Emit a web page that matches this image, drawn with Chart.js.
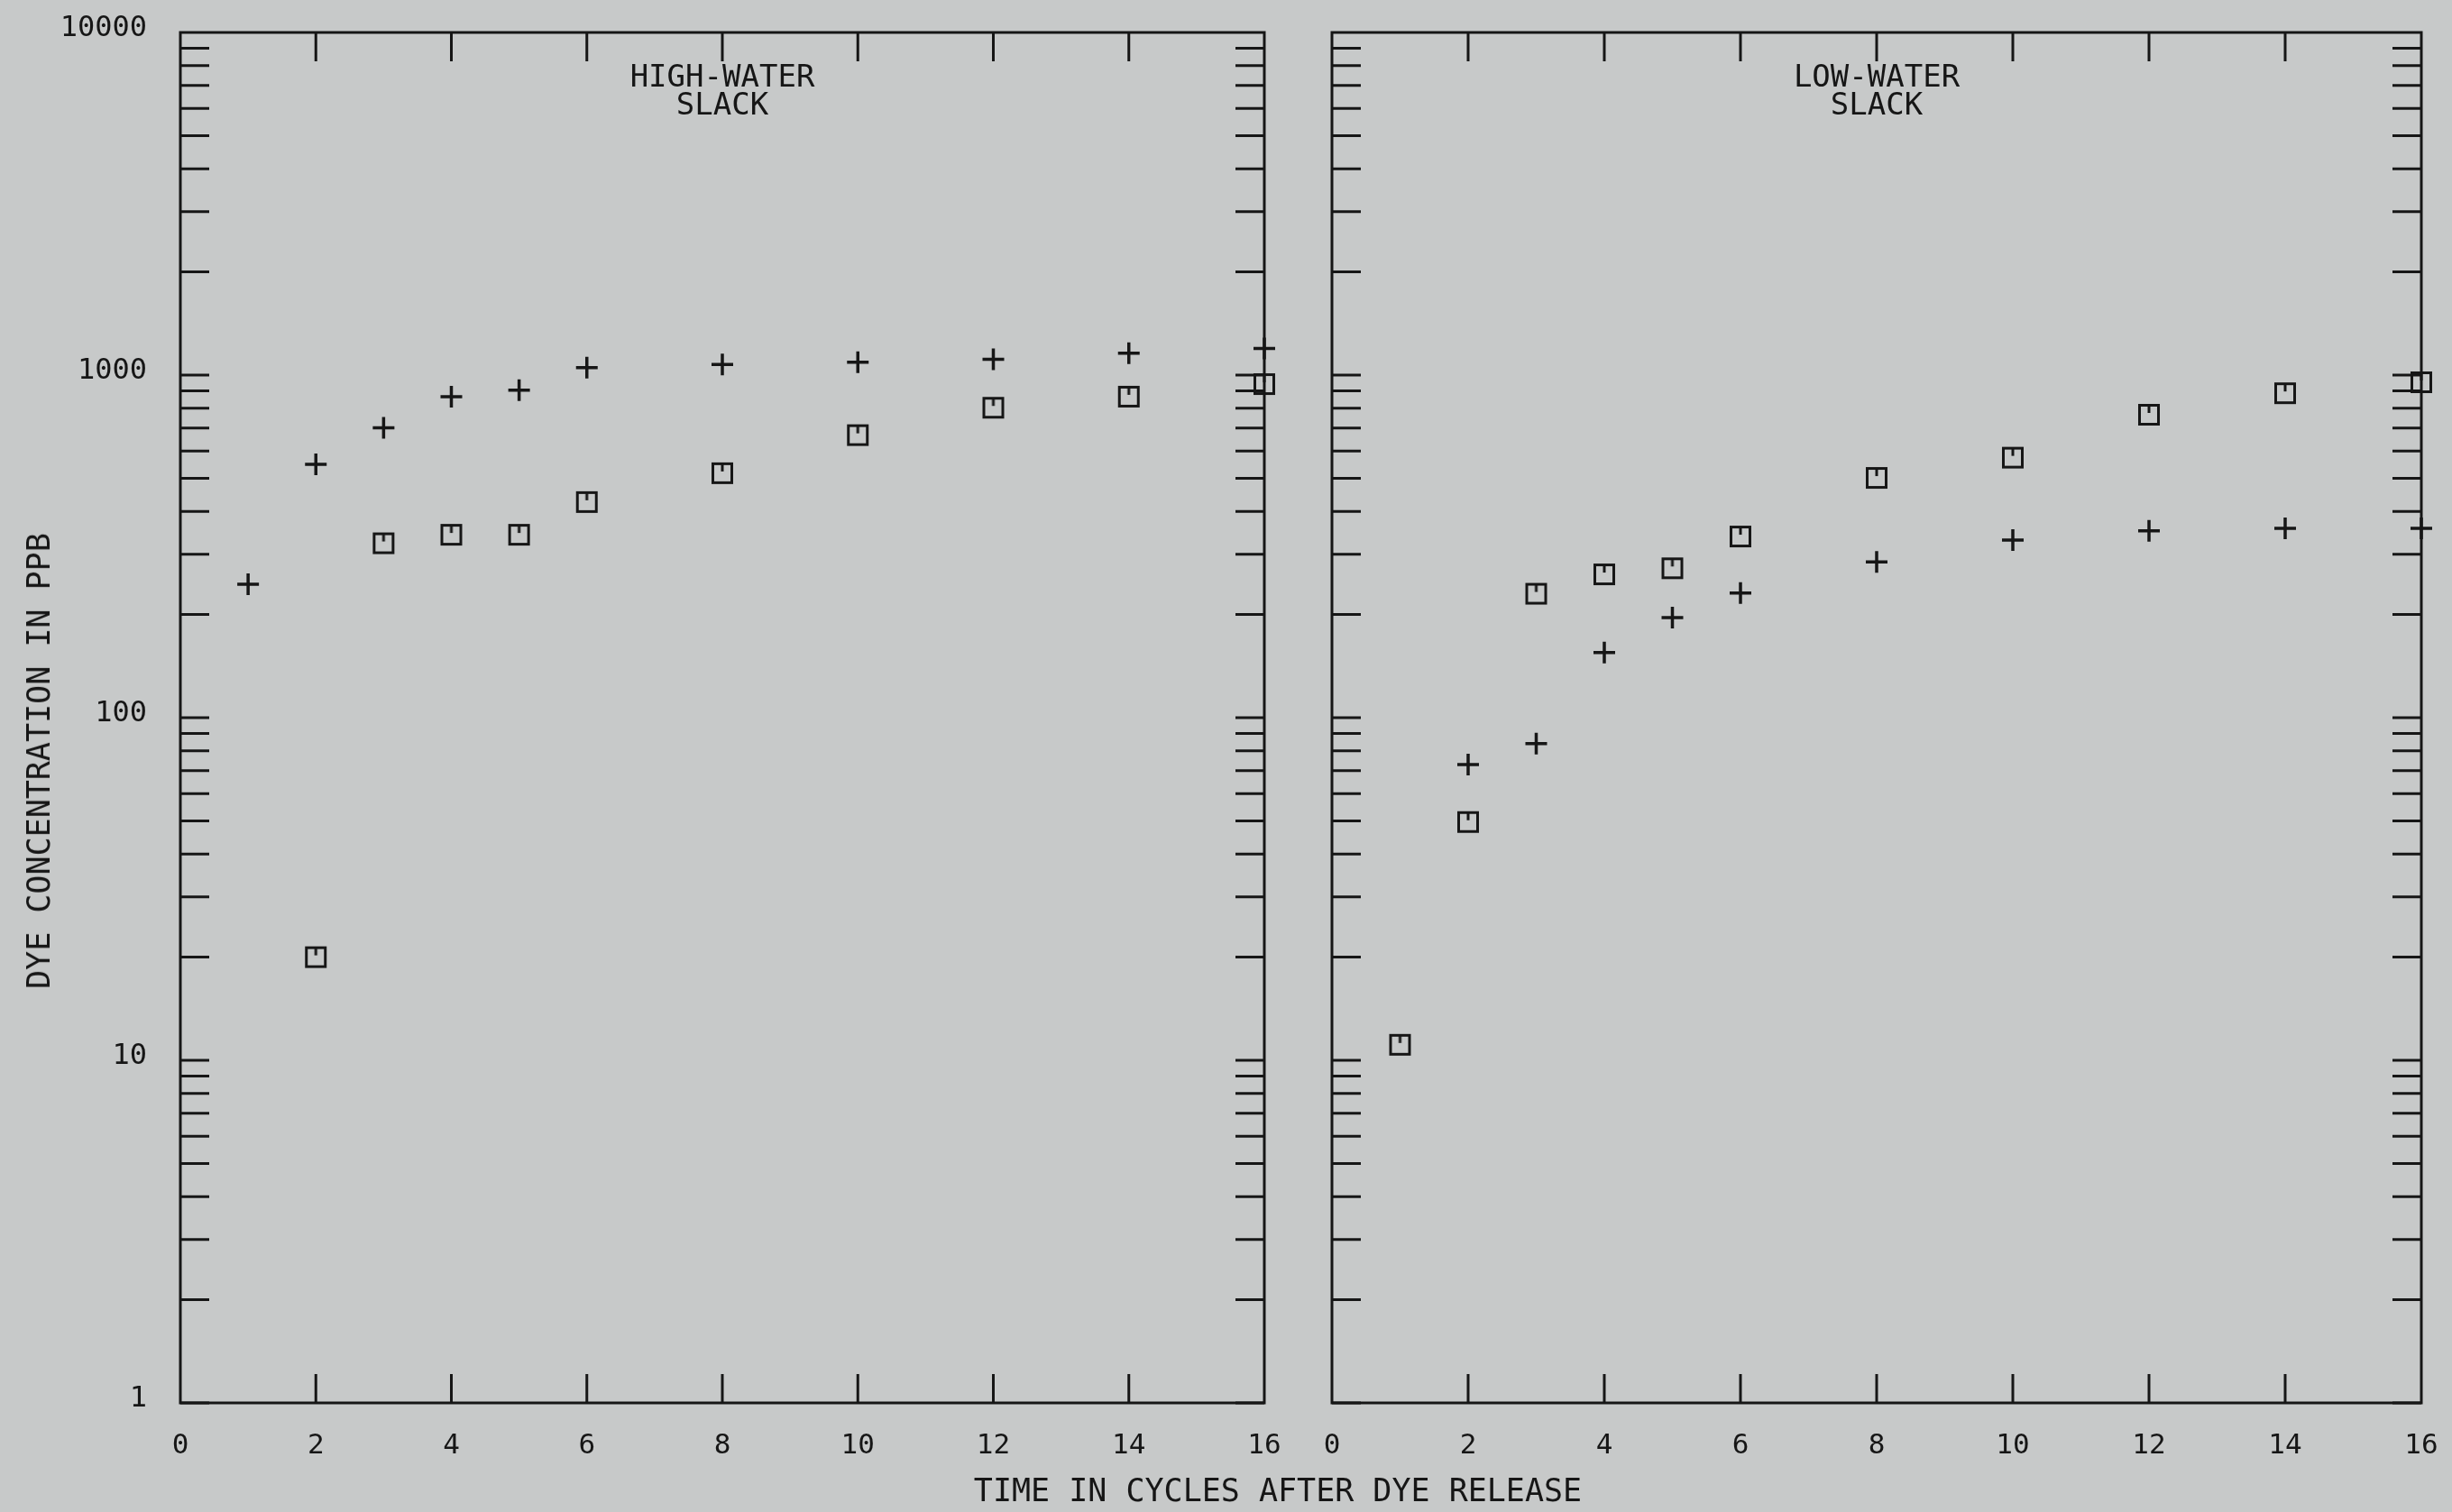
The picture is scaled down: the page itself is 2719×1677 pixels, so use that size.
<!DOCTYPE html>
<html>
<head>
<meta charset="utf-8">
<script src="https://cdn.jsdelivr.net/npm/chart.js@4.4.0/dist/chart.umd.min.js"></script>
<style>
  html, body { margin: 0; padding: 0; background: rgb(199, 201, 201); }
  body { width: 2719px; height: 1677px; position: relative; overflow: hidden;
         font-family: "DejaVu Sans Mono", monospace; color: #161616; }
  canvas { position: absolute; top: 0; }
  #highChart { left: 0; }
  #lowChart { left: 1440px; }
  .axisTitle { position: absolute; font-size: 35px; white-space: nowrap; }
  #xTitle { left: 1417px; top: 1653px; transform: translate(-50%, -50%); }
  #yTitle { left: 43px; top: 844px; transform: translate(-50%, -50%) rotate(-90deg); }
</style>
</head>
<body>
<canvas id="highChart" width="1440" height="1677"></canvas>
<canvas id="lowChart" width="1279" height="1677"></canvas>
<div class="axisTitle" id="xTitle">TIME IN CYCLES AFTER DYE RELEASE</div>
<div class="axisTitle" id="yTitle">DYE CONCENTRATION IN PPB</div>

<script>
// sampling times (tidal cycles after release)
const cycles = [1, 2, 3, 4, 5, 6, 8, 10, 12, 14, 16];

// high-water slack, ppb
const highPlus   = [245, 549, 702, 865, 903, 1051, 1074, 1091, 1112, 1158, 1195];
const highSquare = [null, 20, 323, 342, 342, 426, 517, 668, 803, 865, 941];

// low-water slack, ppb
const lowPlus   = [null, 73, 84, 155, 196, 231, 285, 330, 351, 357, 357];
const lowSquare = [11.1, 49.6, 230, 262, 273, 338, 501, 574, 766, 885, 953];

const xTicks = [0, 2, 4, 6, 8, 10, 12, 14, 16];
const yTicks = [1, 10, 100, 1000, 10000];

const ink = "#161616";
const mono = "DejaVu Sans Mono";
const TICK = 32;

function points(values) {
    return cycles
        .map((x, i) => ({ x: x, y: values[i] }))
        .filter(p => p.y != null);
}

// square marker with the small tick inside, as the plotter drew it
function squareMark() {
    const c = document.createElement("canvas");
    c.width = 28;
    c.height = 28;
    const g = c.getContext("2d");
    g.strokeStyle = ink;
    g.lineWidth = 3;
    g.strokeRect(3.5, 3.5, 21, 21);
    g.beginPath();
    g.moveTo(14, 5);
    g.lineTo(14, 12);
    g.stroke();
    return c;
}
const square = squareMark();

// frame, inward tick marks and the panel caption
const frameTicks = {
    id: "frameTicks",
    beforeDatasetsDraw(chart, args, opts) {
        const ctx = chart.ctx;
        const a = chart.chartArea;
        const x = chart.scales.x;
        const y = chart.scales.y;
        ctx.save();
        ctx.strokeStyle = ink;
        ctx.lineWidth = 3;
        ctx.strokeRect(a.left, a.top, a.right - a.left, a.bottom - a.top);

        ctx.beginPath();
        xTicks.forEach(v => {
            if (v === x.min || v === x.max) return;
            const px = x.getPixelForValue(v);
            ctx.moveTo(px, a.top);
            ctx.lineTo(px, a.top + TICK);
            ctx.moveTo(px, a.bottom);
            ctx.lineTo(px, a.bottom - TICK);
        });
        for (let decade = 1; decade < 10000; decade *= 10) {
            for (let m = 1; m < 10; m++) {
                const py = y.getPixelForValue(decade * m);
                ctx.moveTo(a.left, py);
                ctx.lineTo(a.left + TICK, py);
                ctx.moveTo(a.right, py);
                ctx.lineTo(a.right - TICK, py);
            }
        }
        ctx.stroke();

        ctx.fillStyle = ink;
        ctx.font = "34px '" + mono + "'";
        ctx.textAlign = "center";
        ctx.textBaseline = "middle";
        const cx = x.getPixelForValue(8);
        opts.caption.forEach((line, i) => ctx.fillText(line, cx, 87 + i * 31));
        ctx.restore();
    }
};

function makeChart(id, caption, plusValues, squareValues, showYLabels, yWidth, rightPad) {
    return new Chart(document.getElementById(id), {
        type: "scatter",
        data: {
            datasets: [{
                data: points(plusValues),
                pointStyle: "cross",
                radius: 12,
                borderWidth: 3.5,
                borderColor: ink,
                clip: false
            }, {
                data: points(squareValues),
                pointStyle: square,
                radius: 14,
                clip: false
            }]
        },
        options: {
            responsive: false,
            animation: false,
            devicePixelRatio: 1,
            layout: { padding: { top: 36, right: rightPad, left: 0, bottom: 0 } },
            plugins: {
                legend: { display: false },
                tooltip: { enabled: false },
                frameTicks: { caption: caption }
            },
            scales: {
                x: {
                    type: "linear",
                    min: 0,
                    max: 16,
                    grid: { display: false, drawTicks: false },
                    border: { display: false },
                    ticks: {
                        stepSize: 2,
                        autoSkip: false,
                        maxRotation: 0,
                        padding: 29,
                        color: ink,
                        font: { family: mono, size: 31 }
                    },
                    afterFit(s) {
                        s.height = 121;
                        s.paddingLeft = 0;
                        s.paddingRight = 0;
                    }
                },
                y: {
                    type: "logarithmic",
                    min: 1,
                    max: 10000,
                    grid: { display: false, drawTicks: false },
                    border: { display: false },
                    afterBuildTicks(s) { s.ticks = yTicks.map(v => ({ value: v })); },
                    ticks: {
                        display: showYLabels,
                        callback: v => String(v),
                        padding: 37,
                        labelOffset: -4,
                        color: ink,
                        font: { family: mono, size: 32 }
                    },
                    afterFit(s) {
                        s.width = yWidth;
                        s.paddingTop = 0;
                        s.paddingBottom = 0;
                    }
                }
            }
        },
        plugins: [frameTicks]
    });
}

makeChart("highChart", ["HIGH-WATER", "SLACK"], highPlus, highSquare, true, 200, 38);
makeChart("lowChart", ["LOW-WATER", "SLACK"], lowPlus, lowSquare, false, 37, 34);
</script>
</body>
</html>
